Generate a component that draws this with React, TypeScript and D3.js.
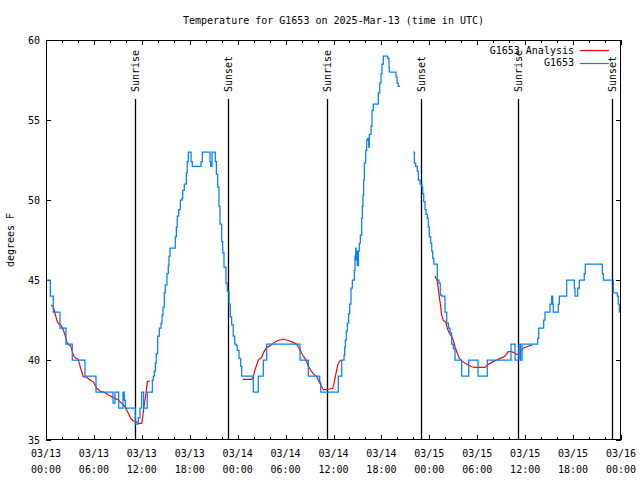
import React from "react";
import * as d3 from "d3";

// ---- data (hours since 2025-03-13 00:00 UTC, degrees F) ----
const startUtc = Date.UTC(2025, 2, 13, 0, 0);
const titleText = "Temperature for G1653 on 2025-Mar-13 (time in UTC)";
const yLabel = "degrees F";
const yTicks = [35, 40, 45, 50, 55, 60];
const majorTickHours = [0, 6, 12, 18, 24, 30, 36, 42, 48, 54, 60, 66, 72];
const minorTickHours = d3.range(0, 73, 2);
const sunriseHours = [11.18, 35.22, 59.14];
const sunsetHours = [22.83, 46.9, 70.9];

// Observations (step values: [hour, temp])
const obsSeg1: [number, number][] = [
  [0, 45], [0.54, 44], [0.91, 43], [1.75, 42], [2.5, 41], [3.29, 40], [4.88, 39], [6.26, 38],
  [8.39, 37.3], [8.64, 38], [9.1, 37], [9.64, 38], [9.8, 37.5], [9.93, 37], [11.18, 36],
  [11.56, 36.4], [11.77, 37], [11.98, 38], [12.23, 37], [12.68, 38], [13.31, 38.75], [13.44, 39],
  [13.56, 39.3], [13.69, 39.8], [13.81, 40.4], [13.99, 41.5], [14.19, 42], [14.4, 42.3],
  [14.53, 42.8], [14.65, 43.3], [14.81, 44.2], [14.94, 44.7], [15.15, 45.4], [15.31, 45.9],
  [15.4, 46.5], [15.53, 47], [16.19, 47.7], [16.32, 48.3], [16.44, 49], [16.62, 49.4],
  [16.82, 50], [17.03, 50.1], [17.12, 50.6], [17.32, 51], [17.57, 51.7], [17.69, 52.4],
  [17.82, 53], [18.16, 52.4], [18.32, 52.1], [19.41, 52.4], [19.57, 53], [20.54, 52.4],
  [20.62, 52.1], [20.79, 53], [21.2, 52.4], [21.33, 51.6], [21.5, 50.8], [21.66, 49.6],
  [21.79, 48.5], [22.0, 47.4], [22.13, 46.7], [22.29, 45.8], [22.54, 44.8], [22.7, 44.3],
  [22.92, 43.5], [23.08, 42.7], [23.25, 42.2], [23.45, 41.5], [23.63, 41], [23.83, 40.9],
  [23.95, 40.6], [24.17, 40.1], [24.38, 39.6], [24.51, 39], [25.96, 38], [26.58, 39],
  [27.21, 40], [27.64, 41], [31.81, 40], [32.85, 39], [34.27, 38.6], [34.4, 38], [36.6, 39],
  [37.03, 40], [37.32, 40.3], [37.4, 40.8], [37.48, 41.25], [37.6, 41.8], [37.73, 42.3],
  [37.9, 42.9], [38.03, 43.5], [38.19, 44.5], [38.36, 45], [38.61, 45.6], [38.69, 46.5],
  [38.78, 47], [38.82, 46.25], [38.91, 46.8], [38.98, 45.9], [39.11, 46.8], [39.23, 47.3],
  [39.36, 47.8], [39.53, 48.85], [39.61, 49.6], [39.69, 50.3], [39.78, 51.25], [39.86, 52.3],
  [40.03, 53.1], [40.16, 53.75], [40.28, 53.85], [40.41, 53.3], [40.48, 54.1], [40.7, 54.6],
  [40.82, 55.6], [40.98, 56], [41.61, 56.7], [41.79, 57.3], [41.95, 57.9], [42.07, 58.5],
  [42.24, 59], [42.79, 58.85], [42.95, 58.3], [42.99, 58], [43.83, 57.7], [43.95, 57.3],
  [44.11, 57.1], [44.33, 57.1],
];
const obsSeg2: [number, number][] = [
  [45.99, 53], [46.12, 52.3], [46.29, 52.1], [46.49, 51.8], [46.62, 51.25], [46.83, 51],
  [47.08, 50.8], [47.17, 50.4], [47.3, 49.9], [47.46, 49.4], [47.58, 49.1], [47.75, 48.85],
  [47.87, 48.3], [48.0, 47.7], [48.17, 47.3], [48.3, 46.8], [48.42, 46.35], [48.55, 46],
  [49.0, 45], [49.21, 44.8], [49.37, 44.06], [49.55, 44], [49.96, 43], [50.18, 42.3],
  [50.38, 42], [50.59, 41.7], [50.8, 41], [51.0, 40.7], [51.21, 40], [52.05, 39], [52.93, 40],
  [54.1, 39], [55.26, 40], [58.23, 41], [58.73, 40], [59.23, 41], [59.42, 40], [59.61, 41],
  [61.57, 41.35], [61.7, 42], [62.32, 42.5], [62.48, 43], [63.11, 43.5], [63.32, 44],
  [63.45, 43.5], [63.52, 43], [64.15, 43.5], [64.28, 44], [65.2, 45], [66.15, 44.5],
  [66.24, 44], [66.58, 44.5], [66.78, 45], [67.4, 45.4], [67.53, 46], [69.66, 45.4],
  [69.79, 45], [71.04, 44.2], [71.54, 44], [71.66, 43.5], [71.79, 43], [72, 43],
];

// Analysis
const anaSeg1: [number, number][] = [
  [0.63, 43.44], [0.91, 43.33], [1.13, 42.92], [1.34, 42.5], [1.54, 42.29], [1.84, 42.19],
  [2.09, 41.98], [2.25, 41.77], [2.38, 41.56], [2.59, 41.15], [2.79, 41], [3.09, 40.88],
  [3.29, 40.52], [3.51, 40.21], [3.84, 40.1], [4.04, 40.04], [4.17, 39.79], [4.34, 39.48],
  [4.55, 39.17], [4.67, 38.96], [5.09, 38.92], [5.51, 38.75], [5.92, 38.65], [6.14, 38.44],
  [6.35, 38.23], [6.76, 38.06], [7.39, 37.96], [7.8, 37.81], [8.23, 37.71], [8.64, 37.6],
  [9.05, 37.5], [9.48, 37.29], [9.89, 37.08], [10.31, 36.67], [10.61, 36.35], [10.93, 36.19],
  [11.27, 36.15], [11.56, 36.04], [11.98, 36.04], [12.11, 36.46], [12.27, 37.08], [12.4, 37.5],
  [12.52, 37.92], [12.69, 38.65], [13.02, 38.69],
];
const anaSeg2: [number, number][] = [
  [24.63, 38.79], [25.76, 38.79], [25.96, 38.96], [26.17, 39.38], [26.38, 39.69], [26.58, 40],
  [27.01, 40.17], [27.21, 40.42], [27.42, 40.63], [27.64, 40.79], [28.05, 40.88], [28.46, 41.04],
  [28.89, 41.19], [29.3, 41.25], [29.71, 41.31], [30.14, 41.25], [30.55, 41.19], [30.97, 41.1],
  [31.39, 40.98], [31.59, 40.83], [31.81, 40.63], [32.02, 40.42], [32.22, 40.25], [32.43, 40.1],
  [32.64, 39.9], [32.85, 39.63], [33.06, 39.42], [33.27, 39.27], [33.48, 39.13], [33.9, 38.96],
  [34.1, 38.75], [34.31, 38.54], [34.52, 38.33], [34.73, 38.13], [35.35, 38.17], [35.9, 38.23],
  [36.07, 38.54], [36.23, 38.96], [36.4, 39.38], [36.6, 39.79], [36.73, 39.9], [36.94, 40],
];
const anaSeg3: [number, number][] = [
  [48.71, 45.25], [49.0, 44.9], [49.25, 43.96], [49.42, 43.33], [49.55, 42.81], [49.75, 42.46],
  [50.05, 42.4], [50.25, 41.98], [50.5, 41.67], [50.8, 41.46], [51.0, 41.25], [51.21, 40.83],
  [51.43, 40.52], [51.75, 40.1], [52.05, 39.96], [52.47, 39.79], [52.88, 39.69], [53.31, 39.58],
  [53.72, 39.54], [54.97, 39.54], [55.26, 39.69], [55.6, 39.79], [56.01, 39.9], [56.44, 40],
  [56.85, 40.1], [57.27, 40.17], [57.6, 40.31], [57.89, 40.52], [58.31, 40.52], [58.73, 40.42],
  [58.94, 40.35], [59.36, 40.38], [59.57, 40.63], [59.86, 40.77], [60.19, 40.83], [60.61, 40.9],
  [60.9, 40.94],
];

const seriesNames = ["G1653 Analysis", "G1653"];
const seriesColors = ["#ff0000", "#0080ff"];

// ---- layout ----
const W = 640, H = 480;
const M = { left: 46, right: 621, top: 40, bottom: 440 };
const FONT = "'DejaVu Sans Mono', 'Liberation Mono', monospace";

const toDate = (h: number) => new Date(startUtc + h * 3600e3);

export default function App() {
  const x = d3.scaleUtc().domain([toDate(0), toDate(72)]).range([M.left, M.right]);
  const y = d3.scaleLinear().domain([35, 60]).range([M.bottom, M.top]);
  const fmtD = d3.utcFormat("%m/%d");
  const fmtT = d3.utcFormat("%H:%M");

  const stepLine = d3
    .line<[number, number]>()
    .x((d) => x(toDate(d[0])))
    .y((d) => y(d[1]))
    .curve(d3.curveStepAfter);
  const anaLine = d3
    .line<[number, number]>()
    .x((d) => x(toDate(d[0])))
    .y((d) => y(d[1]));

  const px = (v: number) => Math.round(v) + 0.5;

  return (
    <svg
      width={W}
      height={H}
      style={{ position: "absolute", left: 0, top: 0, background: "#fff" }}
      fontFamily={FONT}
      fontSize={10}
    >
      <rect x={0} y={0} width={W} height={H} fill="#fff" />
      <text x={(M.left + M.right) / 2} y={24} textAnchor="middle" fill="#000">
        {titleText}
      </text>
      <text
        transform={`translate(14, ${(M.top + M.bottom) / 2}) rotate(-90)`}
        textAnchor="middle"
        fill="#000"
      >
        {yLabel}
      </text>

      {/* ticks */}
      <g stroke="#000" strokeWidth={1} shapeRendering="crispEdges">
        {minorTickHours.map((h) => {
          const xx = px(x(toDate(h)));
          const major = h % 6 === 0;
          const len = major ? 5 : 3;
          return (
            <g key={"xt" + h}>
              <line x1={xx} x2={xx} y1={M.bottom} y2={M.bottom - len} />
              <line x1={xx} x2={xx} y1={M.top} y2={M.top + len} />
            </g>
          );
        })}
        {yTicks.map((v) => {
          const yy = px(y(v));
          return (
            <g key={"yt" + v}>
              <line x1={M.left} x2={M.left + 5} y1={yy} y2={yy} />
              <line x1={M.right} x2={M.right - 5} y1={yy} y2={yy} />
            </g>
          );
        })}
      </g>

      {/* tick labels */}
      {yTicks.map((v) => (
        <text key={"yl" + v} x={40} y={y(v) + 3.5} textAnchor="end" fill="#000">
          {v}
        </text>
      ))}
      {majorTickHours.map((h) => {
        const d = toDate(h);
        return (
          <g key={"xl" + h}>
            <text x={x(d)} y={457} textAnchor="middle" fill="#000">{fmtD(d)}</text>
            <text x={x(d)} y={473} textAnchor="middle" fill="#000">{fmtT(d)}</text>
          </g>
        );
      })}

      {/* sunrise / sunset */}
      {sunriseHours.map((h) => {
        const xx = x(toDate(h));
        return (
          <g key={"sr" + h}>
            <line x1={px(xx)} x2={px(xx)} y1={99} y2={M.bottom} stroke="#000" strokeWidth={1.3} />
            <text transform={`translate(${xx + 4}, 92) rotate(-90)`} fill="#000">Sunrise</text>
          </g>
        );
      })}
      {sunsetHours.map((h) => {
        const xx = x(toDate(h));
        return (
          <g key={"ss" + h}>
            <line x1={px(xx)} x2={px(xx)} y1={99} y2={M.bottom} stroke="#000" strokeWidth={1.3} />
            <text transform={`translate(${xx + 4}, 92) rotate(-90)`} fill="#000">Sunset</text>
          </g>
        );
      })}

      {/* series */}
      {[anaSeg1, anaSeg2, anaSeg3].map((s, i) => (
        <path key={"a" + i} d={anaLine(s) || ""} fill="none" stroke={seriesColors[0]} strokeWidth={1.2} />
      ))}
      {[obsSeg1, obsSeg2].map((s, i) => (
        <path key={"o" + i} d={stepLine(s) || ""} fill="none" stroke={seriesColors[1]} strokeWidth={1.25} />
      ))}

      {/* legend */}
      {seriesNames.map((n, i) => {
        const yy = 50 + i * 12.5;
        return (
          <g key={"lg" + n}>
            <text x={574} y={yy + 3.5} textAnchor="end" fill="#000">{n}</text>
            <line x1={580} x2={609} y1={px(yy)} y2={px(yy)} stroke={seriesColors[i]} strokeWidth={1.2} />
          </g>
        );
      })}

      {/* frame */}
      <rect
        x={M.left + 0.5}
        y={M.top + 0.5}
        width={M.right - M.left - 1}
        height={M.bottom - M.top - 1}
        fill="none"
        stroke="#000"
        strokeWidth={1}
        shapeRendering="crispEdges"
      />
    </svg>
  );
}
